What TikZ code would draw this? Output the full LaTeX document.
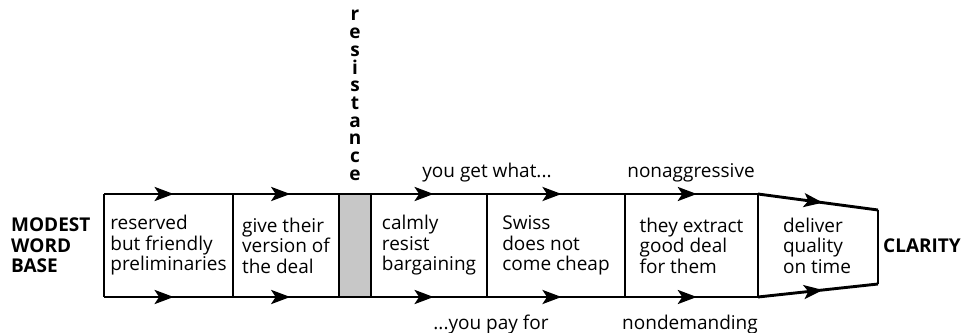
\documentclass[tikz,border=0pt]{standalone}
\usepackage{fontspec}
\setmainfont{Open Sans}
\usetikzlibrary{arrows.meta,decorations.markings}
\begin{document}
\begin{tikzpicture}[x=1pt,y=1pt,
  edge/.style={line width=2.9pt},
  flowline/.style={line width=2.9pt,postaction={decorate},
    decoration={markings,mark=at position 0.54 with {\arrow{Stealth[length=19pt,width=14pt,inset=4.5pt]}}}},
  boxtext/.style={align=left,inner sep=0pt,font=\fontsize{19}{20.5}\selectfont},
  sidetext/.style={align=left,inner sep=0pt,font=\fontsize{19}{20.5}\selectfont\bfseries,anchor=west},
  lbl/.style={inner sep=0pt,anchor=base,font=\fontsize{19}{20.5}\selectfont},
  resl/.style={inner sep=0pt,anchor=base,font=\fontsize{19}{20.5}\selectfont\bfseries}]
\useasboundingbox (0,0) rectangle (968,332);
% corner coordinates
\foreach \n/\x in {a/104,b/233,c/339,d/371,e/487,f/625,g/758}{
  \coordinate (\n t) at (\x,138);
  \coordinate (\n b) at (\x,35);
}
\coordinate (ht) at (878,122);
\coordinate (hb) at (878,48);
% grey resistance band
\fill[black!22] (ct) rectangle (db);
% top and bottom lines with arrows
\draw[flowline] (at) -- (bt);
\draw[flowline] (bt) -- (ct);
\draw[edge] (ct) -- (dt);
\draw[flowline] (dt) -- (et);
\draw[flowline] (et) -- (ft);
\draw[flowline] (ft) -- (gt);
\draw[flowline] (gt) -- (ht);
\draw[flowline] (ab) -- (bb);
\draw[flowline] (bb) -- (cb);
\draw[edge] (cb) -- (db);
\draw[flowline] (db) -- (eb);
\draw[flowline] (eb) -- (fb);
\draw[flowline] (fb) -- (gb);
\draw[flowline] (gb) -- (hb);
% vertical dividers
\foreach \n in {a,b,c,d,e,f,g}{\draw[edge] (\n t) -- (\n b);}
\draw[edge] (ht) -- (hb);
% box texts
\node[boxtext] (t1) at (168.5,86.5) {reserved\\but friendly\\preliminaries};
\node[boxtext] (t2) at (286,86.5) {give their\\version of\\the deal};
\node[boxtext] (t3) at (429,86.5) {calmly\\resist\\bargaining};
\node[boxtext] (t4) at (556,86.5) {Swiss\\does not\\come cheap};
\node[boxtext] (t5) at (691.5,86.5) {they extract\\good deal\\for them};
\node[boxtext] (t6) at (817,86.5) {deliver\\quality\\on time};
% side labels
\node[sidetext] (modest) at (11,86.5) {MODEST\\WORD\\BASE};
\node[sidetext] (clarity) at (883,86.5) {CLARITY};
% line labels
\node[lbl] (get) at (487,154) {you get what...};
\node[lbl] (pay) at (491,3) {...you pay for};
\node[lbl] (nonag) at (691,154) {nonaggressive};
\node[lbl] (nondem) at (690,3) {nondemanding};
% resistance, stacked letters
\foreach \l [count=\i] in {r,e,s,i,s,t,a,n,c,e}{
  \node[resl] (res\i) at (355,{311-(\i-1)*17.7}) {\l};
}
\end{tikzpicture}
\end{document}
